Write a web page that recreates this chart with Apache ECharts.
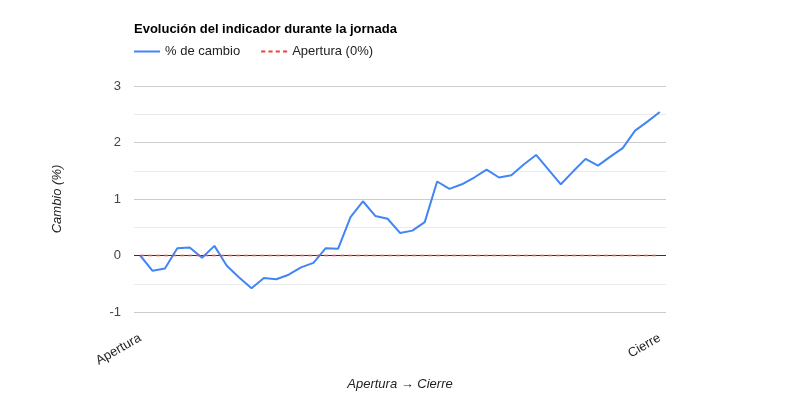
<!DOCTYPE html>
<html>
<head>
<meta charset="utf-8">
<script src="https://cdn.jsdelivr.net/npm/echarts@6/dist/echarts.min.js"></script>
<style>
  html, body { margin: 0; padding: 0; background: #fff; }
  #chart { width: 800px; height: 400px; }
</style>
</head>
<body>
<div id="chart"></div>
<script>
// % change through the session
const changeValues = [
    0, -0.27, -0.23, 0.13, 0.14, -0.04, 0.17, -0.18, -0.39, -0.58,
    -0.40, -0.42, -0.34, -0.21, -0.13, 0.13, 0.12, 0.68, 0.96, 0.70,
    0.65, 0.40, 0.44, 0.59, 1.31, 1.18, 1.26, 1.38, 1.52, 1.38,
    1.42, 1.61, 1.78, 1.52, 1.26, 1.49, 1.71, 1.59, 1.75, 1.90,
    2.21, 2.37, 2.54
]
const openValues = changeValues.map(() => 0)
const categories = changeValues.map((v, i) => i)
const xEndLabels = ['Apertura', 'Cierre']
const yTicks = [-1, 0, 1, 2, 3]

const fontFamily = 'Arial, "Liberation Sans", sans-serif'
const lastIdx = categories.length - 1

// legend icons: a solid stroke and a dashed stroke
const solidIcon = 'path://M0,0h26v2h-26z'
const dashedIcon = 'path://M0,0h4v2h-4z M7,0h4v2h-4z M14,0h4v2h-4z M21,0h4v2h-4z'

const myChart = echarts.init(document.getElementById('chart'))

const option = {
    animation: false,
    textStyle: { fontFamily },
    title: {
        text: 'Evolución del indicador durante la jornada',
        left: 129,
        top: 18,
        textStyle: { fontSize: 13, fontWeight: 'bold', color: '#000', fontFamily }
    },
    legend: {
        left: 129,
        top: 40,
        itemWidth: 26,
        itemHeight: 14,
        itemGap: 21,
        textStyle: { fontSize: 13, color: '#222', fontFamily },
        data: [
            { name: '% de cambio', icon: solidIcon },
            { name: 'Apertura (0%)', icon: dashedIcon }
        ]
    },
    grid: { left: 134, right: 134, top: 86, bottom: 88 },
    xAxis: {
        type: 'category',
        data: categories,
        boundaryGap: true,
        name: 'Apertura → Cierre',
        nameLocation: 'middle',
        nameGap: 66,
        nameTextStyle: { fontSize: 13, fontStyle: 'italic', color: '#222', fontFamily },
        axisLine: { show: false },
        axisTick: { show: false },
        splitLine: { show: false },
        axisLabel: {
            rotate: 30,
            margin: 25,
            fontSize: 13,
            color: '#222',
            fontFamily,
            interval: (idx) => idx === 0 || idx === lastIdx,
            formatter: (val, idx) => idx === 0 ? xEndLabels[0] : xEndLabels[1]
        }
    },
    yAxis: {
        type: 'value',
        min: yTicks[0],
        max: yTicks[yTicks.length - 1],
        interval: 1,
        name: 'Cambio (%)',
        nameLocation: 'middle',
        nameGap: 70,
        nameTextStyle: { fontSize: 13, fontStyle: 'italic', color: '#222', fontFamily },
        axisLine: { show: false },
        axisTick: { show: false },
        axisLabel: { fontSize: 13, color: '#444', margin: 13, fontFamily },
        // the line at 0 is the dark baseline
        splitLine: {
            lineStyle: {
                color: yTicks.map(t => t === 0 ? '#333333' : '#cccccc'),
                width: 1
            }
        },
        minorTick: { show: false, splitNumber: 2 },
        minorSplitLine: { show: true, lineStyle: { color: '#ebebeb', width: 1 } }
    },
    series: [
        {
            name: '% de cambio',
            type: 'line',
            data: changeValues,
            symbol: 'none',
            z: 3,
            lineStyle: { color: '#4285f4', width: 2 },
            itemStyle: { color: '#4285f4' }
        },
        {
            name: 'Apertura (0%)',
            type: 'line',
            data: openValues,
            symbol: 'none',
            z: 5,
            lineStyle: { color: '#e8453c', width: 1.5, type: [4, 4] },
            itemStyle: { color: '#e8453c' }
        }
    ]
}

myChart.setOption(option)
</script>
</body>
</html>
